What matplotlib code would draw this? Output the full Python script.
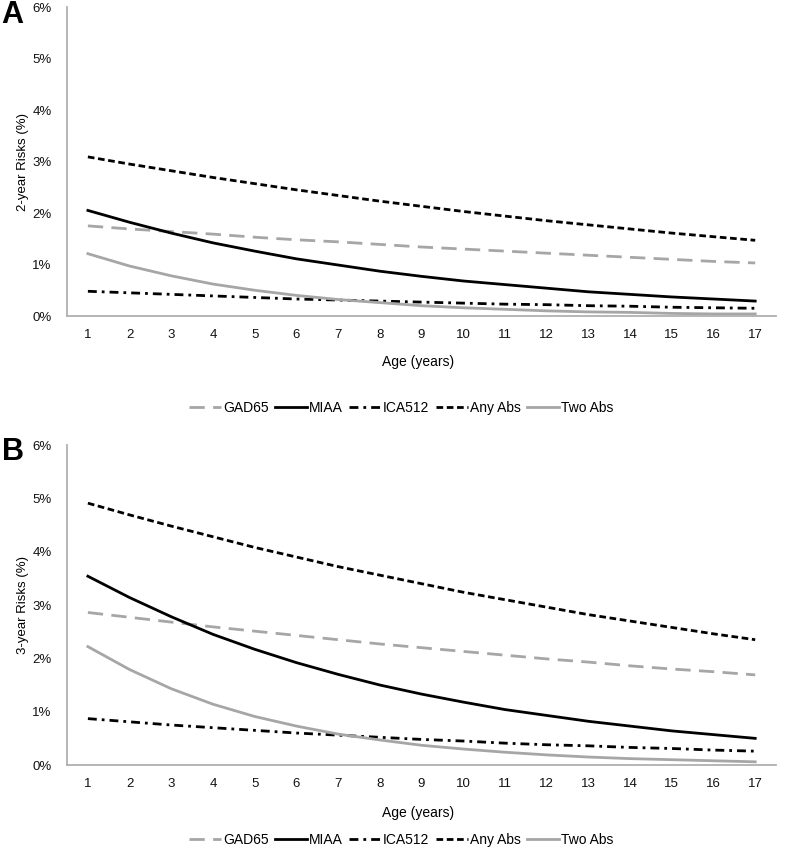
import matplotlib.pyplot as plt
from matplotlib.ticker import FuncFormatter

ages = list(range(1, 18))
labels = ['GAD65', 'MIAA', 'ICA512', 'Any Abs', 'Two Abs']

# panel A: 2-year risks (%)
gad65_2yr = [1.75, 1.69, 1.64, 1.59, 1.53, 1.48, 1.44, 1.39, 1.34, 1.30, 1.26, 1.22, 1.18, 1.14, 1.10, 1.06, 1.03]
miaa_2yr = [2.05, 1.82, 1.61, 1.42, 1.26, 1.11, 0.99, 0.87, 0.77, 0.68, 0.61, 0.54, 0.47, 0.42, 0.37, 0.33, 0.29]
ica512_2yr = [0.48, 0.45, 0.42, 0.39, 0.36, 0.33, 0.31, 0.29, 0.27, 0.25, 0.23, 0.22, 0.20, 0.19, 0.17, 0.16, 0.15]
any_2yr = [3.09, 2.95, 2.82, 2.69, 2.57, 2.45, 2.34, 2.23, 2.13, 2.03, 1.94, 1.85, 1.77, 1.69, 1.61, 1.54, 1.47]
two_2yr = [1.21, 0.97, 0.78, 0.62, 0.50, 0.40, 0.32, 0.26, 0.20, 0.16, 0.13, 0.10, 0.08, 0.07, 0.05, 0.04, 0.04]

# panel B: 3-year risks (%)
gad65_3yr = [2.86, 2.77, 2.68, 2.59, 2.51, 2.43, 2.35, 2.27, 2.20, 2.13, 2.06, 1.99, 1.93, 1.86, 1.80, 1.75, 1.69]
miaa_3yr = [3.54, 3.14, 2.78, 2.45, 2.17, 1.92, 1.70, 1.50, 1.33, 1.18, 1.04, 0.93, 0.82, 0.73, 0.64, 0.57, 0.50]
ica512_3yr = [0.87, 0.81, 0.75, 0.70, 0.65, 0.60, 0.56, 0.52, 0.48, 0.45, 0.41, 0.38, 0.36, 0.33, 0.31, 0.28, 0.26]
any_3yr = [4.91, 4.69, 4.48, 4.28, 4.08, 3.90, 3.72, 3.56, 3.40, 3.24, 3.10, 2.96, 2.82, 2.70, 2.58, 2.46, 2.35]
two_3yr = [2.22, 1.79, 1.43, 1.14, 0.91, 0.73, 0.58, 0.47, 0.37, 0.30, 0.24, 0.19, 0.15, 0.12, 0.10, 0.08, 0.06]

GRAY = '#a6a6a6'
styles = [
    dict(color=GRAY, dashes=(5.5, 3)),
    dict(color='black', linestyle='-'),
    dict(color='black', dashes=(3.2, 1.8, 1, 1.8)),
    dict(color='black', dashes=(2.4, 1.3)),
    dict(color=GRAY, linestyle='-'),
]

plt.rcParams['font.family'] = ['Liberation Sans', 'DejaVu Sans']

fig = plt.figure(figsize=(7.85, 8.66), dpi=100)


def draw_panel(rect, series, ylabel, letter, letter_y, legend_y):
    ax = fig.add_axes(rect)
    lines = []
    for values, style in zip(series, styles):
        ln, = ax.plot(ages, values, lw=2, **style)
        lines.append(ln)
    ax.set_xlim(0.5, 17.5)
    ax.set_ylim(0, 6)
    ax.set_xticks(ages)
    ax.set_yticks(range(0, 7))
    ax.yaxis.set_major_formatter(FuncFormatter(lambda v, p: '%d%%' % v))
    ax.tick_params(length=0, labelsize=9.5, colors='#111111')
    ax.tick_params(axis='x', pad=9)
    ax.tick_params(axis='y', pad=11)
    for side in ['top', 'right']:
        ax.spines[side].set_visible(False)
    for side in ['left', 'bottom']:
        ax.spines[side].set_color('#b0b0b0')
        ax.spines[side].set_linewidth(1.3)
    ax.set_ylabel(ylabel, fontsize=9.5)
    ax.yaxis.set_label_coords(-0.053, 0.5)
    ax.text(0.495, -0.15, 'Age (years)', transform=ax.transAxes,
            ha='center', va='center', fontsize=10)
    fig.text(0.002, letter_y, letter, fontsize=22, fontweight='bold',
             ha='left', va='center')
    fig.legend(lines, labels, loc='center', bbox_to_anchor=(0.511, legend_y),
               ncol=5, frameon=False, handlelength=2.3, handletextpad=0.15,
               columnspacing=0.45,
               prop={'family': ['Liberation Sans Narrow', 'Liberation Sans'], 'size': 10})
    return ax


draw_panel([0.0854, 0.6351, 0.9032, 0.3568],
           [gad65_2yr, miaa_2yr, ica512_2yr, any_2yr, two_2yr],
           '2-year Risks (%)', 'A', 0.983, 0.529)
draw_panel([0.0854, 0.1166, 0.9032, 0.3695],
           [gad65_3yr, miaa_3yr, ica512_3yr, any_3yr, two_3yr],
           '3-year Risks (%)', 'B', 0.478, 0.030)

fig.savefig('out.png', dpi=100)
